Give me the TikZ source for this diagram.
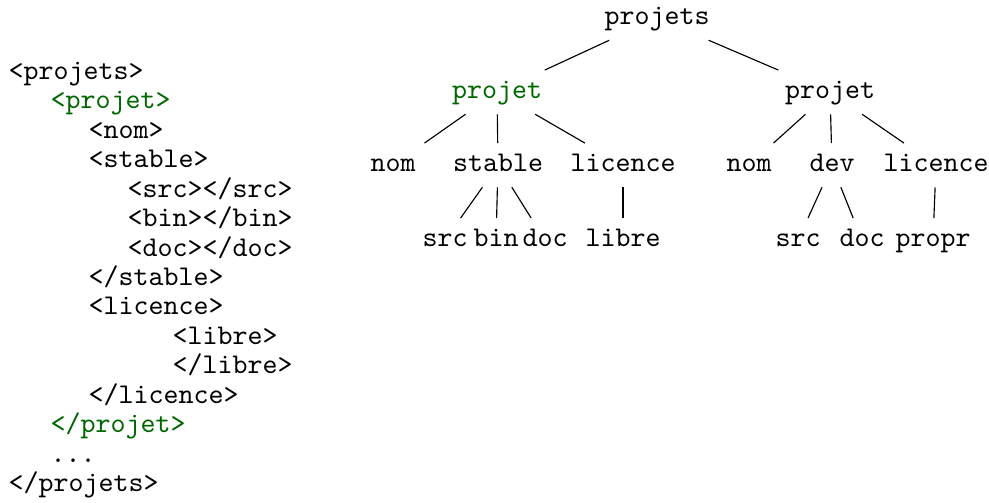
\documentclass[tikz,border=0pt]{standalone}
\begin{document}
\begin{tikzpicture}[x=0.35pt,y=-0.35pt,
    ligne/.style={anchor=base west,inner sep=0pt,font=\ttfamily},
    noeud/.style={anchor=base,font=\ttfamily,text height=1.45ex,text depth=.5ex},
    vert/.style={text=green!40!black}]
    % cadre : 989 x 502
    \useasboundingbox (0,0) rectangle (989,502);

    % Le fichier XML a gauche
    \node[ligne] (l0) at (8,79) {<projets>};
    \node[ligne,vert] (l1) at (50,108) {<projet>};
    \node[ligne] (l2) at (88,138) {<nom>};
    \node[ligne] (l3) at (88,167) {<stable>};
    \node[ligne] (l4) at (127,197) {<src></src>};
    \node[ligne] (l5) at (127,226) {<bin></bin>};
    \node[ligne] (l6) at (127,256) {<doc></doc>};
    \node[ligne] (l7) at (88,285) {</stable>};
    \node[ligne] (l8) at (88,314) {<licence>};
    \node[ligne] (l9) at (172,344) {<libre>};
    \node[ligne] (l10) at (172,373) {</libre>};
    \node[ligne] (l11) at (88,403) {</licence>};
    \node[ligne,vert] (l12) at (50,432) {</projet>};
    \node[ligne] (l13) at (50,462) {...};
    \node[ligne] (l14) at (8,491) {</projets>};

    % L'arbre a droite
    \node[noeud] (racine) at (657,24) {projets};
    \node[noeud,vert] (projA) at (497,98) {projet};
    \node[noeud] (projB) at (830,98) {projet};

    \node[noeud] (nomA) at (393,171) {nom};
    \node[noeud] (stableA) at (498,171) {stable};
    \node[noeud] (licA) at (623,171) {licence};
    \node[noeud] (nomB) at (749,171) {nom};
    \node[noeud] (devB) at (832,171) {dev};
    \node[noeud] (licB) at (936,171) {licence};

    \node[noeud] (srcA) at (445,246) {src};
    \node[noeud] (binA) at (496,246) {bin};
    \node[noeud] (docA) at (545,246) {doc};
    \node[noeud] (libreA) at (623,246) {libre};
    \node[noeud] (srcB) at (798,246) {src};
    \node[noeud] (docB) at (862,246) {doc};
    \node[noeud] (proprB) at (933,246) {propr};

    \draw (racine) -- (projA);
    \draw (racine) -- (projB);
    \draw (projA) -- (nomA);
    \draw (projA) -- (stableA);
    \draw (projA) -- (licA);
    \draw (projB) -- (nomB);
    \draw (projB) -- (devB);
    \draw (projB) -- (licB);
    \draw (stableA) -- (srcA);
    \draw (stableA) -- (binA);
    \draw (stableA) -- (docA);
    \draw (licA) -- (libreA);
    \draw (devB) -- (srcB);
    \draw (devB) -- (docB);
    \draw (licB) -- (proprB);
\end{tikzpicture}
\end{document}
